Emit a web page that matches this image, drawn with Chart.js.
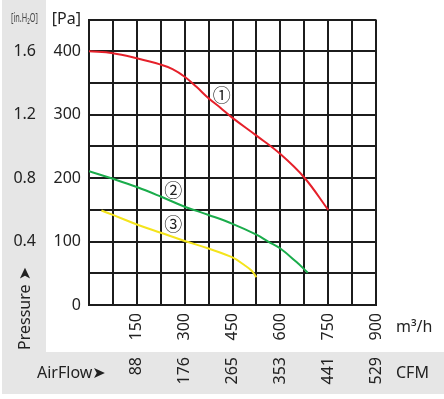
<!DOCTYPE html>
<html>
<head>
<meta charset="utf-8">
<script src="https://cdn.jsdelivr.net/npm/chart.js@4.4.1/dist/chart.umd.min.js"></script>
<style>
  html, body { margin: 0; padding: 0; background: #fff; }
  #wrap { position: relative; width: 444px; height: 399px; }
</style>
</head>
<body>
<div id="wrap"><canvas id="fan-chart" width="444" height="399"></canvas></div>
<script>
// ------------------------------------------------------------
// P-Q curves (airflow m3/h vs static pressure Pa)
// ------------------------------------------------------------
const flowRed    = [0, 75, 150, 225, 262, 300, 337, 375, 412, 450, 525, 600, 675, 750];
const paRed      = [400, 397, 389, 379, 372, 360, 344, 326, 311, 295, 267, 238, 201, 150];
const flowGreen  = [0, 75, 150, 225, 300, 375, 450, 525, 562, 600, 650, 686];
const paGreen    = [211, 199, 186, 171, 155, 142, 128, 111, 100, 89, 68, 51];
const flowYellow = [39, 75, 150, 225, 300, 375, 450, 487, 510, 525];
const paYellow   = [149, 142, 127, 114, 101, 89, 75, 63, 54, 44];

// axis labels
const flowTicks   = [150, 300, 450, 600, 750, 900];
const cfmLabels   = ['88', '176', '265', '353', '441', '529'];
const paTicks     = [100, 200, 300, 400];
const inH2OLabels = ['0.4', '0.8', '1.2', '1.6'];

// curve tags (data coords)
const curveTags = [
  { text: '①', x: 416, y: 331 },
  { text: '②', x: 264, y: 181 },
  { text: '③', x: 264, y: 127 }
];

const FONT = '"Noto Sans", "DejaVu Sans", sans-serif';
const INK = '#222';
const GRID = '#1c1c1c';

function pts(xs, ys) {
  return xs.map(function(x, i) { return { x: x, y: ys[i] }; });
}

function curve(label, xs, ys, color) {
  return {
    label: label,
    data: pts(xs, ys),
    borderColor: color,
    borderWidth: 2,
    pointRadius: 0,
    fill: false,
    tension: 0.4
  };
}

const decor = {
  id: 'decor',
  beforeDraw(chart) {
    const ctx = chart.ctx;
    ctx.save();
    ctx.fillStyle = '#e6e6e6';
    ctx.fillRect(2, 0, 44, 352);
    ctx.fillRect(2, 352, 442, 42);
    ctx.restore();
  },
  afterDraw(chart) {
    const ctx = chart.ctx;
    const xs = chart.scales.x, ys = chart.scales.y;
    ctx.save();
    ctx.fillStyle = INK;
    ctx.textBaseline = 'middle';

    // [in.H2O] header, squeezed like the original
    ctx.save();
    ctx.font = '13px ' + FONT;
    ctx.fillStyle = '#444';
    const hdr = '[in.H\u2082O]';
    const w = ctx.measureText(hdr).width;
    ctx.translate(11, 18);
    ctx.scale(27 / w, 1);
    ctx.textAlign = 'left';
    ctx.fillText(hdr, 0, 0);
    ctx.restore();

    // Pressure ➤ (vertical)
    ctx.save();
    ctx.font = '16px ' + FONT;
    ctx.translate(25, 350);
    ctx.rotate(-Math.PI / 2);
    ctx.textAlign = 'left';
    ctx.fillText('Pressure \u27A4', 0, 0);
    ctx.restore();

    ctx.font = '16px ' + FONT;
    ctx.textAlign = 'left';
    ctx.fillText('AirFlow\u27A4', 37, 373);
    ctx.fillText('m\u00B3/h', 396, 327);
    ctx.fillText('CFM', 396, 373);

    ctx.font = '18px "Noto Sans CJK JP", "DejaVu Sans", sans-serif';
    ctx.textAlign = 'center';
    curveTags.forEach(function(t) {
      ctx.fillText(t.text, xs.getPixelForValue(t.x), ys.getPixelForValue(t.y));
    });
    ctx.restore();
  }
};

new Chart(document.getElementById('fan-chart'), {
  type: 'line',
  data: {
    datasets: [
      curve('1', flowRed, paRed, '#e5202a'),
      curve('2', flowGreen, paGreen, '#1aac4b'),
      curve('3', flowYellow, paYellow, '#f4e41c')
    ]
  },
  options: {
    responsive: false,
    animation: false,
    devicePixelRatio: 1,
    layout: { padding: { top: 18, right: 68, bottom: 0, left: 0 } },
    plugins: { legend: { display: false }, tooltip: { enabled: false } },
    scales: {
      x: {
        type: 'linear', position: 'bottom', weight: 0, min: 0, max: 900,
        grid: { color: GRID, lineWidth: 2, drawTicks: false },
        border: { color: GRID, width: 2 },
        ticks: {
          stepSize: 75, autoSkip: false, minRotation: 90, maxRotation: 90, padding: 8,
          color: INK, font: { family: FONT, size: 16 },
          callback: v => flowTicks.indexOf(v) >= 0 ? String(v) : ''
        },
        afterFit: s => { s.height = 48; }
      },
      x2: {
        type: 'linear', position: 'bottom', weight: 1, min: 0, max: 900,
        grid: { display: false, drawTicks: false },
        border: { display: false },
        ticks: {
          stepSize: 75, autoSkip: false, minRotation: 90, maxRotation: 90, padding: 4,
          color: INK, font: { family: FONT, size: 16 },
          callback: v => { const i = flowTicks.indexOf(v); return i >= 0 ? cfmLabels[i] : ''; }
        },
        afterFit: s => { s.height = 46; }
      },
      y: {
        type: 'linear', position: 'left', weight: 0, min: 0, max: 450,
        grid: { color: GRID, lineWidth: 2, drawTicks: false },
        border: { color: GRID, width: 2 },
        ticks: {
          stepSize: 50, autoSkip: false, padding: 8,
          color: INK, font: { family: FONT, size: 16 },
          callback: v => v === 450 ? '[Pa]' : (v % 100 === 0 ? String(v) : '')
        },
        afterFit: s => { s.width = 43; }
      },
      y2: {
        type: 'linear', position: 'left', weight: 1, min: 0, max: 450,
        grid: { display: false, drawTicks: false },
        border: { display: false },
        ticks: {
          stepSize: 50, autoSkip: false, padding: 10,
          color: INK, font: { family: FONT, size: 16 },
          callback: v => { const i = paTicks.indexOf(v); return i >= 0 ? inH2OLabels[i] : ''; }
        },
        afterFit: s => { s.width = 46; }
      }
    }
  },
  plugins: [decor]
});
</script>
</body>
</html>
